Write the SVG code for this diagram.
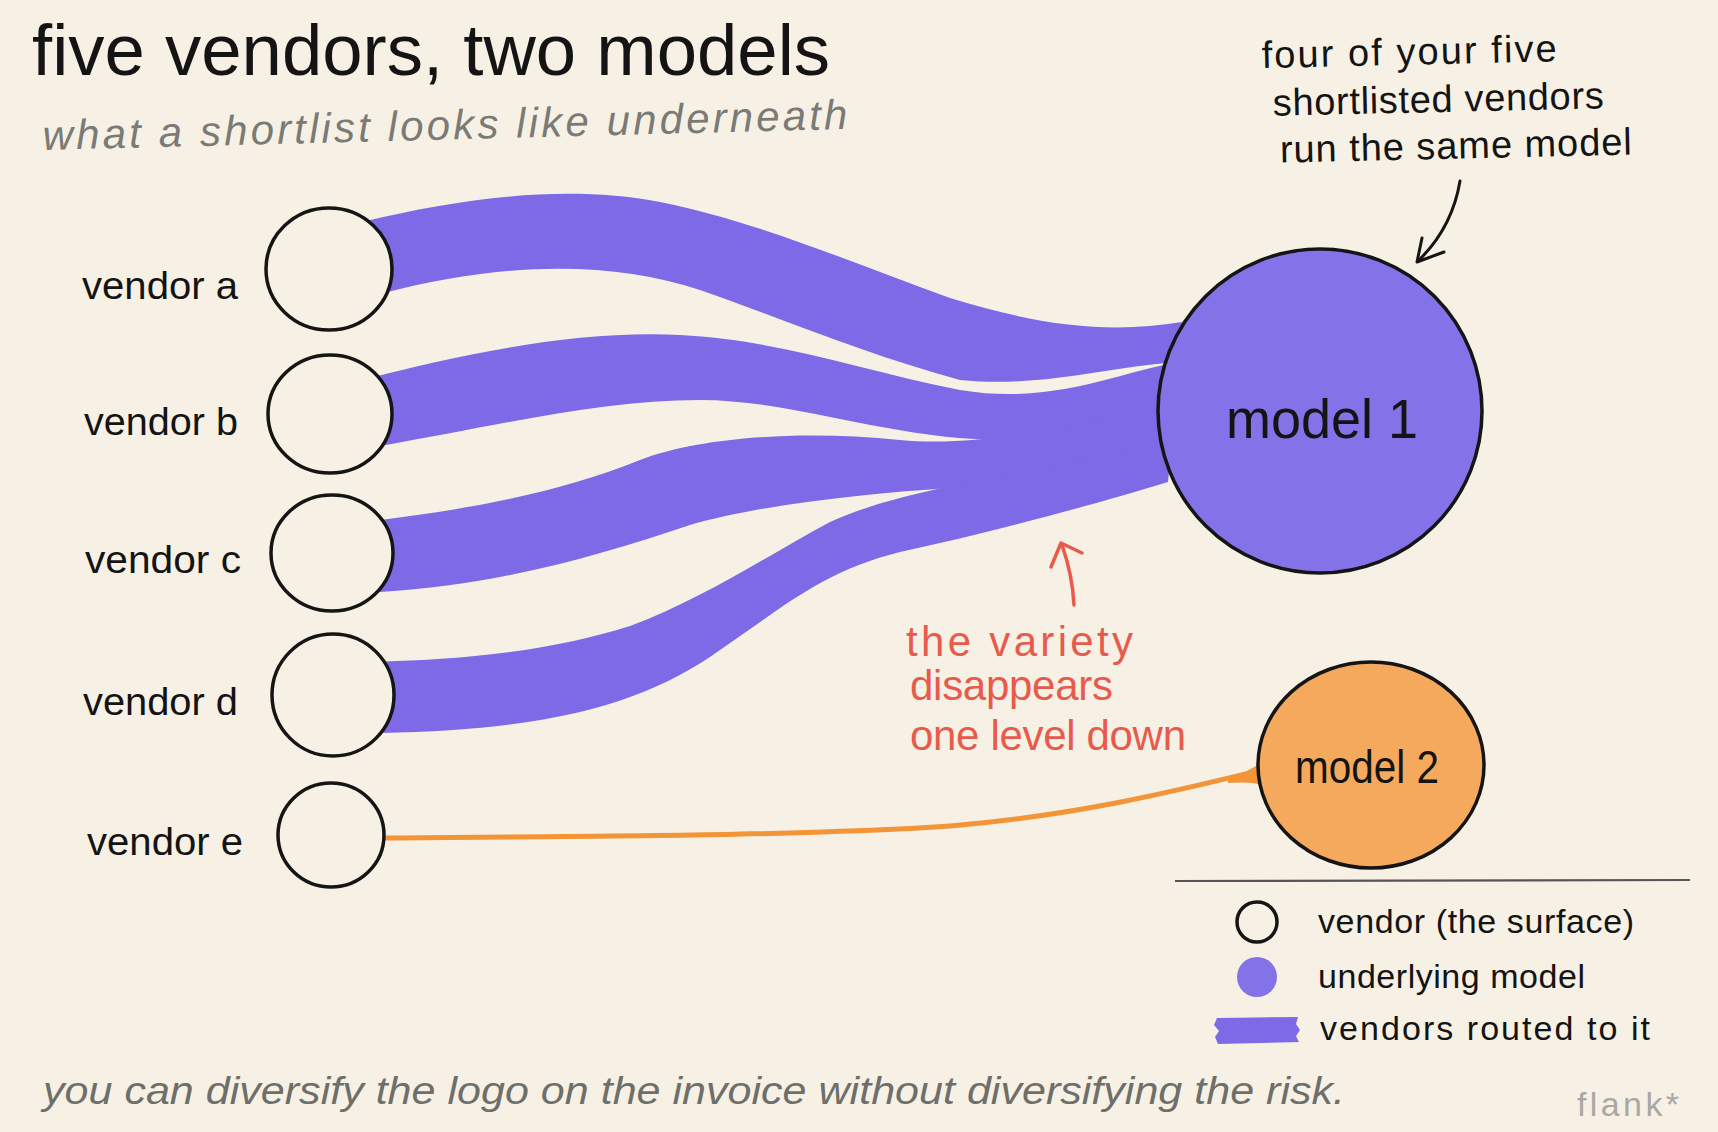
<svg xmlns="http://www.w3.org/2000/svg" width="1718" height="1132" viewBox="0 0 1718 1132">
<style>
.t{font-family:"Liberation Sans",Arial,sans-serif;fill:#141414}
.title{font-size:72px}
.sub{font-size:42px;fill:#7a7a76;font-style:italic}
.note{font-size:38px}
.lab{font-size:38px}
.red{font-size:42px;fill:#e85a4c}
.leg{font-size:34px}
.foot{font-size:38px;fill:#6e6e6a;font-style:italic}
.sig{font-size:34px;fill:#a8a8a4}
.vend{fill:#f6f1e4;stroke:#151515;stroke-width:3.5}
.band{fill:#7e6ae6}
.ink{fill:none;stroke:#151515;stroke-width:3;stroke-linecap:round;stroke-linejoin:round}
.redink{fill:none;stroke:#e85a4c;stroke-width:3.5;stroke-linecap:round;stroke-linejoin:round}
</style>
<rect width="1718" height="1132" fill="#f6f1e4"/>

<g id="title">
<text class="t title" x="32" y="75" textLength="798" lengthAdjust="spacingAndGlyphs">five vendors, two models</text>
<text class="t sub" x="43" y="150" transform="rotate(-1.5 43 150)" textLength="805" lengthAdjust="spacing">what a shortlist looks like underneath</text>
</g>

<g id="connectors">
<path class="band" d="M 362,222 C 470,196 570,185 660,202 C 760,222 860,266 950,298 C 1040,326 1110,334 1182,322 L 1178,362 C 1100,368 1040,388 960,380 C 870,356 780,318 700,290 C 610,260 500,262 380,294 Z"/>
<path class="band" d="M 362,380 C 470,352 580,330 680,335 C 780,340 860,370 960,390 C 1050,405 1110,375 1178,362 L 1176,402 C 1110,420 1060,442 990,440 C 880,436 790,400 700,400 C 600,400 500,425 380,446 Z"/>
<path class="band" d="M 362,522 C 470,510 560,492 640,460 C 700,437 800,430 900,440 C 980,448 1080,425 1176,402 L 1172,442 C 1090,462 1020,482 950,488 C 860,494 760,505 690,525 C 600,555 500,585 380,592 Z"/>
<path class="band" d="M 362,662 C 480,660 560,648 630,626 C 700,600 760,560 830,522 C 900,490 1000,478 1172,442 L 1168,482 C 1100,503 1000,530 900,552 C 820,572 780,610 720,650 C 650,700 560,730 380,733 Z"/>
<path d="M 383,838 C 600,836 800,836 950,826 C 1080,815 1180,790 1262,770" fill="none" stroke="#f39436" stroke-width="5" stroke-linecap="round"/>
<path d="M 1228,780 C 1242,775 1252,768 1264,761 L 1264,785 C 1252,782 1240,782 1228,783 Z" fill="#f39436"/>
</g>

<g id="vendor-a"><ellipse class="vend" cx="329" cy="269" rx="63" ry="61"/><text class="t lab" x="82" y="299" textLength="156" lengthAdjust="spacingAndGlyphs">vendor a</text></g>
<g id="vendor-b"><ellipse class="vend" cx="330" cy="414" rx="62" ry="59"/><text class="t lab" x="84" y="435" textLength="154" lengthAdjust="spacingAndGlyphs">vendor b</text></g>
<g id="vendor-c"><ellipse class="vend" cx="332" cy="553" rx="61" ry="58"/><text class="t lab" x="85" y="573" textLength="156" lengthAdjust="spacingAndGlyphs">vendor c</text></g>
<g id="vendor-d"><ellipse class="vend" cx="333" cy="695" rx="61" ry="61"/><text class="t lab" x="83" y="715" textLength="155" lengthAdjust="spacingAndGlyphs">vendor d</text></g>
<g id="vendor-e"><ellipse class="vend" cx="331" cy="835" rx="53" ry="52"/><text class="t lab" x="87" y="855" textLength="156" lengthAdjust="spacingAndGlyphs">vendor e</text></g>

<g id="model-1">
<circle cx="1320" cy="411" r="162" fill="#8372e8" stroke="#151515" stroke-width="3.5"/>
<text class="t" x="1226" y="438" font-size="56" textLength="192" lengthAdjust="spacingAndGlyphs">model 1</text>
</g>
<g id="model-2">
<ellipse cx="1371" cy="765" rx="113" ry="103" fill="#f4a95c" stroke="#151515" stroke-width="3.5"/>
<text class="t" x="1295" y="783" font-size="46" textLength="144" lengthAdjust="spacingAndGlyphs">model 2</text>
</g>

<g id="note-top">
<g transform="rotate(-1.3 1262 68)">
<text class="t note" x="1262" y="68" textLength="295" lengthAdjust="spacing">four of your five</text>
<text class="t note" x="1272" y="116" textLength="331" lengthAdjust="spacing">shortlisted vendors</text>
<text class="t note" x="1278" y="163" textLength="352" lengthAdjust="spacing">run the same model</text>
</g>
<path class="ink" d="M 1460,181 C 1456,205 1445,235 1418,261"/>
<path class="ink" d="M 1422,238 L 1417,262 L 1444,252"/>
</g>

<g id="note-variety">
<path class="redink" d="M 1074,605 C 1073,585 1069,565 1062,545"/>
<path class="redink" d="M 1051,567 L 1061,543 L 1082,553"/>
<text class="t red" x="906" y="656" textLength="227" lengthAdjust="spacing">the variety</text>
<text class="t red" x="910" y="700" textLength="203" lengthAdjust="spacing">disappears</text>
<text class="t red" x="910" y="750" textLength="276" lengthAdjust="spacing">one level down</text>
</g>

<g id="legend">
<line x1="1175" y1="881" x2="1690" y2="880" stroke="#555" stroke-width="2.2"/>
<circle cx="1257" cy="922" r="20" fill="none" stroke="#151515" stroke-width="3.5"/>
<circle cx="1257" cy="977" r="20" fill="#8372e8"/>
<path d="M 1217,1018 L 1298,1017 L 1296,1024 L 1300,1030 L 1296,1036 L 1299,1042 L 1218,1044 L 1215,1037 L 1219,1031 L 1214,1025 Z" fill="#7e6ae6"/>
<text class="t leg" x="1318" y="933" textLength="316" lengthAdjust="spacing">vendor (the surface)</text>
<text class="t leg" x="1318" y="988" textLength="267" lengthAdjust="spacing">underlying model</text>
<text class="t leg" x="1320" y="1040" textLength="330" lengthAdjust="spacing">vendors routed to it</text>
</g>

<g id="footer">
<text class="t foot" x="43" y="1104" textLength="1302" lengthAdjust="spacingAndGlyphs">you can diversify the logo on the invoice without diversifying the risk.</text>
<text class="t sig" x="1577" y="1116" textLength="102" lengthAdjust="spacing">flank*</text>
</g>
</svg>
